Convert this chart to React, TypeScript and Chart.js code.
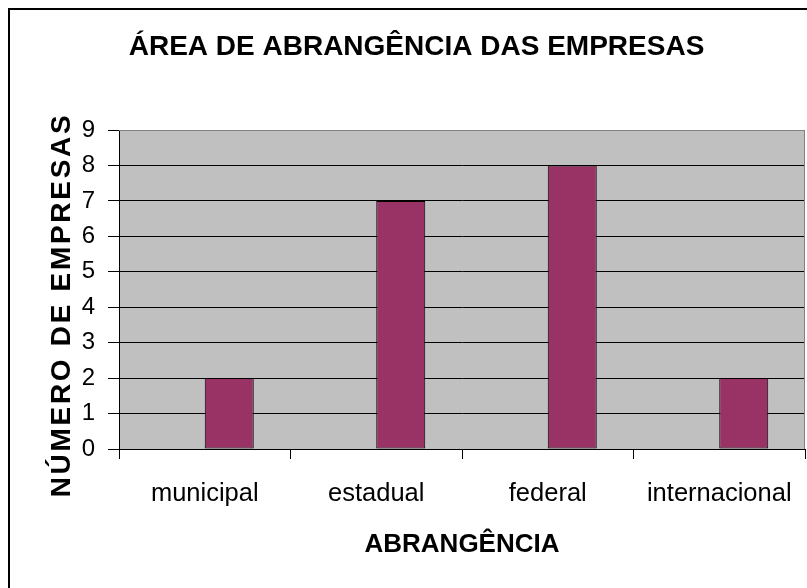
import React, { useEffect, useRef } from 'react';
import { Chart, registerables } from 'chart.js';

Chart.register(...registerables);

// ---- data ----
const categories = ['municipal', 'estadual', 'federal', 'internacional'];
const emptySeries: (number | null)[] = [null, null, null, null];
const companyCounts = [2, 7, 8, 2];
const yMin = 0;
const yMax = 9;
const yStep = 1;

const chartTitle = 'ÁREA DE ABRANGÊNCIA DAS EMPRESAS';
const xTitle = 'ABRANGÊNCIA';
const yTitle = 'NÚMERO DE EMPRESAS';

const FONT = "'Liberation Sans', Arial, Helvetica, sans-serif";

const plotFrame = {
  id: 'plotFrame',
  beforeDraw(chart: any) {
    const { ctx, chartArea } = chart;
    const { left, top, right, bottom } = chartArea;
    ctx.save();
    ctx.fillStyle = '#C0C0C0';
    ctx.fillRect(left, top, right - left, bottom - top);
    ctx.restore();
  },
  afterDatasetsDraw(chart: any) {
    const { ctx, chartArea } = chart;
    const { left, top, right, bottom } = chartArea;
    ctx.save();
    ctx.strokeStyle = '#808080';
    ctx.lineWidth = 1;
    ctx.beginPath();
    ctx.moveTo(left, top + 0.5);
    ctx.lineTo(right, top + 0.5);
    ctx.moveTo(right - 0.5, top);
    ctx.lineTo(right - 0.5, bottom);
    ctx.stroke();
    ctx.restore();
  },
};

// Y-axis title drawn with letter spacing (Chart.js has no letterSpacing option)
const spacedYTitle = {
  id: 'spacedYTitle',
  afterDraw(chart: any) {
    const s = chart.scales.y;
    const ctx = chart.ctx;
    ctx.save();
    ctx.font = `bold 28px ${FONT}`;
    ctx.fillStyle = '#000';
    (ctx as any).letterSpacing = '2.7px';
    ctx.translate(s.left + 34, (s.top + s.bottom) / 2 + 15.5);
    ctx.rotate(-Math.PI / 2);
    ctx.textAlign = 'center';
    ctx.textBaseline = 'middle';
    ctx.fillText(yTitle, 0, 0);
    ctx.restore();
  },
};

export default function App() {
  const ref = useRef<HTMLCanvasElement | null>(null);

  useEffect(() => {
    if (!ref.current) return;
    const chart = new Chart(ref.current, {
      type: 'bar',
      data: {
        labels: categories,
        datasets: [
          {
            label: 'série 1',
            data: emptySeries,
            backgroundColor: 'rgba(0,0,0,0)',
            borderWidth: 0,
          },
          {
            label: 'série 2',
            data: companyCounts,
            backgroundColor: '#993366',
            borderColor: '#000000',
            borderWidth: 1,
            borderSkipped: false,
          },
        ],
      },
      options: {
        responsive: false,
        animation: false,
        maintainAspectRatio: false,
        datasets: {
          bar: {
            categoryPercentage: 2 / 3.5,
            barPercentage: 1,
          },
        },
        layout: { padding: { left: 18, right: 2, top: 0, bottom: 0 } },
        plugins: {
          legend: { display: false },
          tooltip: { enabled: false },
          title: {
            display: true,
            text: chartTitle,
            color: '#000',
            font: { family: FONT, size: 28, weight: 'bold' },
            padding: { top: 20, bottom: 66.4 },
          },
        },
        scales: {
          x: {
            type: 'category',
            offset: true,
            afterFit(scale: any) {
              scale.height = 139;
              scale.paddingLeft = 0;
              scale.paddingRight = 0;
            },
            grid: {
              offset: true,
              drawOnChartArea: false,
              drawTicks: true,
              tickLength: 10,
              color: '#000',
            },
            border: { display: true, color: '#000', width: 1 },
            ticks: {
              color: '#000',
              font: { family: FONT, size: 25.5 },
              padding: 20,
              maxRotation: 0,
            },
            title: {
              display: true,
              text: xTitle,
              color: '#000',
              font: { family: FONT, size: 26, weight: 'bold' },
              padding: { top: 0, bottom: 27.4 },
            },
          },
          y: {
            min: yMin,
            max: yMax,
            afterFit(scale: any) {
              scale.width = 91;
            },
            grid: {
              color: '#000',
              lineWidth: 1,
              drawTicks: true,
              tickLength: 11,
            },
            border: { display: true, color: '#000', width: 1 },
            ticks: {
              stepSize: yStep,
              color: '#000',
              font: { family: FONT, size: 24 },
              padding: 13,
            },
            title: { display: false, text: yTitle },
          },
        },
      },
      plugins: [plotFrame, spacedYTitle],
    });
    return () => chart.destroy();
  }, []);

  return (
    <div
      style={{
        position: 'fixed',
        left: 8,
        top: 8,
        borderLeft: '2px solid #000',
        borderTop: '2px solid #000',
        background: '#fff',
      }}
    >
      <canvas ref={ref} width={797} height={578} style={{ display: 'block' }} />
    </div>
  );
}
